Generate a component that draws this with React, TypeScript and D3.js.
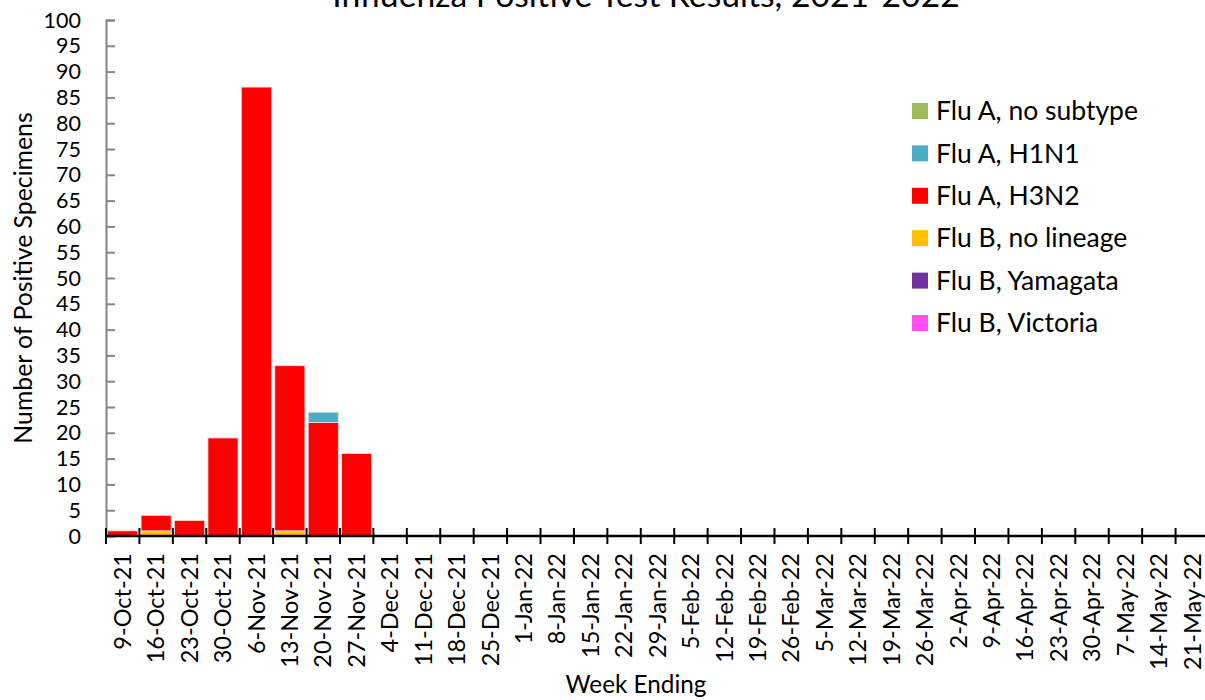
import { useEffect, useRef } from 'react';
import * as d3 from 'd3';

const weeks = [
  '9-Oct-21', '16-Oct-21', '23-Oct-21', '30-Oct-21', '6-Nov-21', '13-Nov-21', '20-Nov-21', '27-Nov-21',
  '4-Dec-21', '11-Dec-21', '18-Dec-21', '25-Dec-21', '1-Jan-22', '8-Jan-22', '15-Jan-22', '22-Jan-22',
  '29-Jan-22', '5-Feb-22', '12-Feb-22', '19-Feb-22', '26-Feb-22', '5-Mar-22', '12-Mar-22', '19-Mar-22',
  '26-Mar-22', '2-Apr-22', '9-Apr-22', '16-Apr-22', '23-Apr-22', '30-Apr-22', '7-May-22', '14-May-22',
  '21-May-22',
];

// series values, one per week (only the first 8 weeks have positives)
const pad = (a: number[]) => a.concat(new Array(weeks.length - a.length).fill(0));
const fluBVictoria = pad([0, 0, 0, 0, 0, 0, 0, 0]);
const fluBYamagata = pad([0, 0, 0, 0, 0, 0, 0, 0]);
const fluBNoLineage = pad([0, 1, 0, 0, 0, 1, 0, 0]);
const fluAH3N2 = pad([1, 3, 3, 19, 87, 32, 22, 16]);
const fluAH1N1 = pad([0, 0, 0, 0, 0, 0, 2, 0]);
const fluANoSubtype = pad([0, 0, 0, 0, 0, 0, 0, 0]);

// stack order bottom -> top
const seriesKeys = ['Flu B, Victoria', 'Flu B, Yamagata', 'Flu B, no lineage', 'Flu A, H3N2', 'Flu A, H1N1', 'Flu A, no subtype'];
const seriesValues = [fluBVictoria, fluBYamagata, fluBNoLineage, fluAH3N2, fluAH1N1, fluANoSubtype];
const seriesColors = ['#FF4FF0', '#7030A0', '#FFC000', '#FF0000', '#4BACC6', '#9BBB59'];

const yTicks = d3.range(0, 101, 5);

const FONT = 'Lato, "Open Sans", sans-serif';

const App = () => {
  const svgRef = useRef<SVGSVGElement>(null);
  const width = 1205;
  const height = 700;

  useEffect(() => {
    if (!svgRef.current) return;
    const svg = d3.select(svgRef.current);
    svg.selectAll('*').remove();

    const left = 106;
    const right = 1209;
    const top = 20;
    const bottom = 536;

    const x = d3.scaleBand().domain(weeks).range([left, right]).paddingInner(0.1).paddingOuter(0.05);
    const y = d3.scaleLinear().domain([0, 100]).range([bottom, top]);

    const table = weeks.map((w, i) => {
      const row: any = { week: w };
      seriesKeys.forEach((k, j) => (row[k] = seriesValues[j][i]));
      return row;
    });
    const stacked = d3.stack<any>().keys(seriesKeys)(table);

    svg.append('rect').attr('width', width).attr('height', height).attr('fill', 'white');

    // title (partly cut off at the top, as in the original)
    svg.append('text')
      .attr('x', 646)
      .attr('y', 7)
      .attr('text-anchor', 'middle')
      .style('font-family', FONT)
      .style('font-size', '33.7px')
      .text('Influenza Positive Test Results, 2021-2022');

    // bars
    stacked.forEach((s, j) => {
      svg.append('g')
        .selectAll('rect')
        .data(s.filter((d) => d[1] - d[0] > 0))
        .enter().append('rect')
        .attr('x', (d) => x(d.data.week) as number)
        .attr('width', x.bandwidth())
        .attr('y', (d) => y(d[1]))
        .attr('height', (d) => y(d[0]) - y(d[1]))
        .attr('fill', seriesColors[j])
        .attr('stroke', '#ffd9d9')
        .attr('stroke-width', 0.8);
    });

    // y axis
    const yAxis = svg.append('g')
      .attr('transform', `translate(${left},0)`)
      .call(d3.axisRight(y).tickValues(yTicks).tickSize(9).tickFormat(() => ''));
    yAxis.selectAll('path').attr('stroke', '#868686').attr('stroke-width', 2);
    yAxis.selectAll('.tick line').attr('stroke', '#868686').attr('stroke-width', 2);

    svg.append('g')
      .selectAll('text')
      .data(yTicks)
      .enter().append('text')
      .attr('x', 81)
      .attr('y', (d) => y(d))
      .attr('dy', '0.35em')
      .attr('text-anchor', 'end')
      .style('font-family', FONT)
      .style('font-size', '21.5px')
      .text((d) => d);

    // x axis: ticks sit between categories
    const gap = (x.step() * x.paddingInner()) / 2;
    const boundaries = weeks.map((w) => (x(w) as number) - gap).concat([right]);
    const xg = svg.append('g');
    xg.append('line')
      .attr('x1', left).attr('x2', right)
      .attr('y1', bottom).attr('y2', bottom)
      .attr('stroke', 'black').attr('stroke-width', 2.5);
    xg.selectAll('.xtick')
      .data(boundaries)
      .enter().append('line')
      .attr('x1', (d) => d).attr('x2', (d) => d)
      .attr('y1', bottom - 8).attr('y2', bottom + 8)
      .attr('stroke', 'black').attr('stroke-width', 2);

    xg.selectAll('.xlabel')
      .data(weeks)
      .enter().append('text')
      .attr('transform', (d) => `translate(${(x(d) as number) + x.bandwidth() / 2},553) rotate(-90)`)
      .attr('dy', '0.35em')
      .attr('text-anchor', 'end')
      .style('font-family', FONT)
      .style('font-size', '23.5px')
      .text((d) => d);

    // axis titles
    svg.append('text')
      .attr('transform', 'translate(23,278) rotate(-90)')
      .attr('dy', '0.35em')
      .attr('text-anchor', 'middle')
      .style('font-family', FONT)
      .style('font-size', '24.8px')
      .text('Number of Positive Specimens');

    svg.append('text')
      .attr('x', 636)
      .attr('y', 693)
      .attr('text-anchor', 'middle')
      .style('font-family', FONT)
      .style('font-size', '24.3px')
      .text('Week Ending');

    // legend (reverse of stack order)
    const legendKeys = seriesKeys.slice().reverse();
    const legendColors = seriesColors.slice().reverse();
    const lg = svg.append('g').attr('transform', 'translate(912,111)');
    legendKeys.forEach((k, i) => {
      const row = lg.append('g').attr('transform', `translate(0,${i * 42.4})`);
      row.append('rect').attr('x', 0).attr('y', -8).attr('width', 16).attr('height', 16).attr('fill', legendColors[i]);
      row.append('text')
        .attr('x', 24)
        .attr('y', 0)
        .attr('dy', '0.35em')
        .style('font-family', FONT)
        .style('font-size', '26.5px')
        .text(k);
    });
  }, []);

  return (
    <svg
      ref={svgRef}
      width={width}
      height={height}
      style={{ position: 'absolute', left: 0, top: 0, display: 'block' }}
    />
  );
};

export default App;
